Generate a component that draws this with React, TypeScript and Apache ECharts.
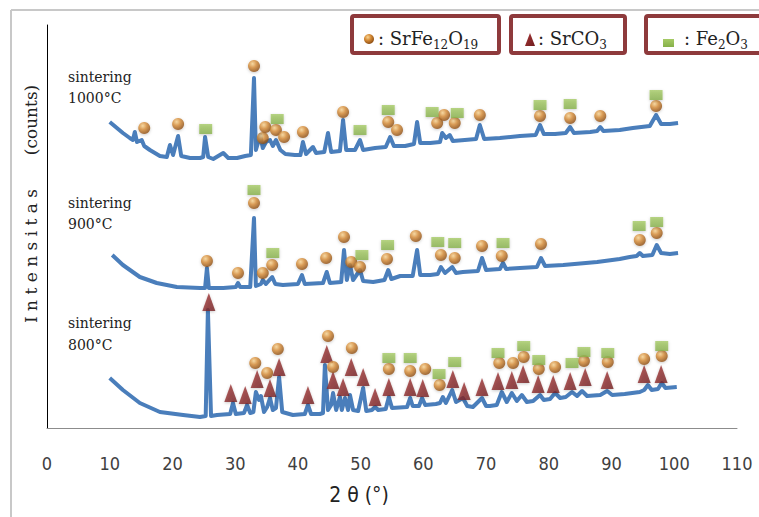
import React, { useEffect, useRef } from "react";
import * as echarts from "echarts";

// X-ray diffraction patterns: [2θ (°), intensity (a.u., offset per curve)]
const trace1000: number[][] = [
  [10.0, 306], [12.1, 295], [13.2, 290], [13.7, 288], [14.0, 296], [14.35, 286], [15.1, 288], [15.5, 282],
  [16.4, 278], [18.0, 272], [19.1, 271], [19.6, 283], [20.1, 273], [20.9, 292], [21.4, 272], [22.8, 270],
  [24.4, 270], [24.9, 271], [25.2, 291], [25.7, 271], [26.5, 269], [28.1, 275], [28.9, 270], [30.3, 270],
  [31.6, 272], [32.5, 273], [33.0, 350], [33.3, 278], [34.0, 293], [34.4, 280], [34.9, 286], [35.55, 288],
  [36.0, 282], [36.5, 288], [37.2, 278], [38.0, 274], [39.5, 273], [40.4, 273], [40.8, 286], [41.3, 274],
  [42.4, 281], [42.9, 275], [44.2, 276], [44.8, 295], [45.3, 276], [46.7, 277], [47.2, 308], [47.7, 278],
  [49.1, 278], [49.9, 288], [50.4, 278], [52.3, 280], [54.0, 281], [54.7, 291], [55.3, 282], [57.1, 282],
  [58.5, 284], [59.0, 306], [59.5, 285], [61.1, 285], [62.65, 286], [63.0, 295], [63.6, 290], [64.2, 293],
  [64.7, 287], [66.6, 288], [68.4, 289], [69.0, 303], [69.7, 289], [72.2, 290], [75.4, 292], [77.9, 293],
  [78.6, 303], [79.2, 294], [81.0, 294], [82.7, 295], [83.4, 301], [84.0, 295], [86.6, 296], [87.7, 297],
  [88.2, 301], [88.7, 297], [91.3, 298], [93.4, 300], [96.1, 302], [97.1, 313], [97.9, 304], [99.3, 304],
  [100.6, 305],
];

const trace900: number[][] = [
  [10.4, 173], [12.1, 163], [14.8, 151], [17.5, 145], [20.7, 141], [24.4, 140], [25.2, 140], [25.5, 160],
  [25.8, 140], [28.1, 140], [30.1, 141], [30.45, 145], [30.8, 141], [32.4, 141], [33.0, 210], [33.3, 142],
  [34.1, 144], [34.4, 148], [34.9, 144], [35.9, 151], [36.4, 144], [37.6, 143], [40.0, 144], [40.65, 153],
  [41.1, 144], [44.0, 145], [44.6, 156], [45.1, 145], [46.9, 146], [47.35, 178], [47.8, 148], [48.3, 163],
  [48.8, 148], [49.9, 158], [50.4, 147], [52.0, 146], [53.8, 148], [54.4, 158], [54.9, 149], [56.3, 152],
  [58.3, 152], [59.0, 178], [59.5, 153], [61.1, 153], [62.3, 154], [62.8, 161], [63.45, 155], [64.6, 161],
  [65.2, 155], [66.3, 156], [68.7, 157], [69.35, 170], [70.0, 158], [72.2, 159], [72.7, 165], [73.2, 159],
  [75.4, 160], [78.1, 161], [78.75, 170], [79.4, 162], [82.3, 163], [87.7, 166], [91.3, 169], [92.9, 171],
  [94.0, 172], [94.5, 175], [95.0, 172], [96.5, 173], [97.2, 183], [97.9, 175], [99.3, 174], [100.6, 175],
];

const trace800: number[][] = [
  [10.0, 50], [12.1, 38], [14.8, 25], [18.0, 16], [21.7, 13], [24.4, 11], [25.3, 12], [25.65, 118],
  [25.9, 65], [26.15, 12], [27.1, 13], [29.2, 14], [29.65, 25], [30.1, 14], [31.4, 15], [31.9, 23],
  [32.4, 15], [32.9, 16], [33.3, 36], [33.8, 28], [34.1, 32], [34.6, 16], [35.1, 21], [35.55, 30],
  [36.0, 18], [36.5, 20], [37.0, 51], [37.5, 16], [39.2, 13], [41.1, 14], [41.6, 23], [42.1, 14],
  [43.5, 14], [44.0, 15], [44.3, 63], [44.8, 18], [45.3, 23], [45.6, 35], [46.1, 18], [46.7, 31],
  [47.0, 18], [47.5, 30], [48.0, 18], [48.3, 33], [48.8, 18], [49.6, 17], [50.4, 40], [50.9, 17],
  [51.8, 18], [52.3, 21], [52.8, 18], [54.0, 19], [54.5, 31], [55.0, 20], [57.4, 21], [57.9, 30],
  [58.3, 22], [59.3, 22], [59.8, 30], [60.3, 23], [62.0, 24], [62.65, 25], [63.1, 31], [63.6, 25],
  [64.6, 38], [65.2, 26], [66.3, 30], [67.0, 22], [67.9, 21], [69.35, 30], [70.0, 22], [70.6, 22],
  [71.7, 23], [72.5, 36], [73.3, 26], [74.1, 35], [74.9, 27], [75.7, 33], [76.5, 26], [77.5, 27],
  [78.6, 33], [79.2, 28], [80.2, 29], [81.0, 35], [81.8, 30], [82.7, 31], [83.7, 36], [84.5, 32],
  [85.3, 37], [86.1, 32], [88.2, 33], [89.3, 37], [90.1, 33], [92.1, 34], [94.5, 36], [95.2, 38],
  [95.8, 43], [96.4, 38], [97.4, 39], [98.0, 45], [98.6, 40], [100.4, 41],
];

// Phase markers [2θ, position]
const ferrite1000 = [[15.5, 300], [20.9, 304], [33.0, 362], [34.4, 290], [34.8, 301], [36.5, 298], [37.8, 291], [40.8, 296], [47.2, 316], [54.4, 306], [55.8, 298], [62.2, 305], [63.3, 313], [65.0, 305], [69.0, 313], [78.6, 312], [83.4, 310], [88.2, 312], [97.1, 322]];
const hematite1000 = [[25.3, 299], [36.7, 309], [49.9, 298], [54.4, 318], [61.4, 316], [65.4, 315], [78.6, 323], [83.4, 324], [97.1, 333]];
const ferrite900 = [[25.5, 167], [30.45, 155], [33.0, 225], [34.4, 155], [35.9, 163], [40.65, 164], [44.5, 170], [47.35, 191], [48.5, 166], [49.9, 161], [54.2, 169], [58.8, 192], [62.8, 173], [65.0, 170], [69.35, 182], [72.5, 172], [78.75, 184], [94.5, 188], [97.2, 195]];
const hematite900 = [[33.0, 238], [36.0, 175], [50.2, 173], [54.3, 183], [62.3, 186], [65.0, 185], [72.7, 185], [94.4, 202], [97.2, 206]];
const ferrite800 = [[33.2, 65], [35.1, 55], [36.8, 79], [44.8, 92], [45.6, 61], [48.6, 80], [54.5, 59], [57.9, 57], [60.3, 59], [62.6, 43], [72.1, 65], [74.3, 65], [76.0, 71], [78.4, 59], [81.0, 61], [85.6, 67], [89.4, 66], [95.2, 69], [98.0, 72]];
const hematite800 = [[54.5, 70], [57.9, 70], [62.5, 54], [65.0, 66], [71.9, 75], [76.0, 82], [78.4, 68], [83.7, 65], [85.6, 76], [89.4, 75], [98.0, 82]];
const carbonate800 = [[25.8, 126], [29.3, 35], [31.6, 33], [33.5, 49], [35.55, 40], [37.0, 61], [41.6, 33], [44.6, 74], [45.6, 48], [47.2, 41], [48.5, 61], [50.4, 51], [52.3, 31], [54.5, 41], [57.9, 41], [59.9, 40], [64.7, 49], [66.5, 37], [69.35, 41], [71.9, 47], [74.1, 48], [75.9, 54], [78.3, 44], [80.7, 44], [83.4, 47], [85.8, 51], [89.3, 48], [95.2, 54], [97.9, 54]];

const sampleLabels = ["sintering\n1000°C", "sintering\n900°C", "sintering\n800°C"];
const xTicks = { min: 0, max: 110, interval: 10 };

// legend formula pieces: [text, isSubscript]
const legendFerrite: [string, boolean][] = [[": SrFe", false], ["12", true], ["O", false], ["19", true]];
const legendCarbonate: [string, boolean][] = [[": SrCO", false], ["3", true]];
const legendHematite: [string, boolean][] = [[": Fe", false], ["2", true], ["O", false], ["3", true]];

const SERIF = "'DejaVu Serif', 'Liberation Serif', serif";
const NARROW = "'Liberation Sans Narrow', 'DejaVu Sans Condensed', 'Open Sans', sans-serif";
const LINE_BLUE = "#4a7ebb";
const BOX_RED = "#8e3a3c";
const MAIN_SIZE = 18;
const SUB_SIZE = 12;

const ballFill = () =>
  new echarts.graphic.RadialGradient(0.38, 0.32, 0.7, [
    { offset: 0, color: "#f9d594" },
    { offset: 0.45, color: "#d68c37" },
    { offset: 1, color: "#8c4c12" },
  ]);
const triFill = () =>
  new echarts.graphic.LinearGradient(0, 0, 1, 1, [
    { offset: 0, color: "#a83636" },
    { offset: 1, color: "#6f1d1f" },
  ]);
const sqFill = () =>
  new echarts.graphic.LinearGradient(0, 0, 0, 1, [
    { offset: 0, color: "#a6cb66" },
    { offset: 1, color: "#86b04a" },
  ]);

function measure(text: string, size: number): number {
  const c = document.createElement("canvas").getContext("2d");
  if (!c) return text.length * size * 0.6;
  c.font = `${size}px ${SERIF}`;
  return c.measureText(text).width;
}

function formulaTexts(pieces: [string, boolean][], x0: number) {
  const out: any[] = [];
  let x = x0;
  for (const [t, sub] of pieces) {
    const size = sub ? SUB_SIZE : MAIN_SIZE;
    out.push({
      type: "text", x, y: sub ? 45 : 38, z: 11,
      style: { text: t, fontFamily: SERIF, fontSize: size, fill: "#222", verticalAlign: "middle" },
    });
    x += measure(t, size);
  }
  return out;
}

export default function App() {
  const ref = useRef<HTMLDivElement>(null);

  useEffect(() => {
    if (!ref.current) return;
    const chart = echarts.init(ref.current, null, { renderer: "svg" });

    const lineSeries = (data: number[][]) => ({
      type: "line",
      data,
      showSymbol: false,
      smooth: false,
      lineStyle: { color: LINE_BLUE, width: 4, join: "round" },
      z: 2,
      silent: true,
    });

    const markerShadow = { shadowBlur: 3, shadowColor: "rgba(0,0,0,0.25)", shadowOffsetY: 1 };

    const option: any = {
      animation: false,
      backgroundColor: "#ffffff",
      grid: { left: 47, right: 22, top: 25, bottom: 89 },
      xAxis: {
        type: "value",
        min: xTicks.min,
        max: xTicks.max,
        interval: xTicks.interval,
        axisLine: { show: true, lineStyle: { color: "#8c8c8c", width: 1 } },
        axisTick: { show: false },
        splitLine: { show: false },
        axisLabel: { fontFamily: NARROW, fontSize: 18, color: "#404040", margin: 26 },
      },
      yAxis: {
        type: "value",
        min: 0,
        max: 403,
        axisLine: { show: true, onZero: false, lineStyle: { color: "#000", width: 1 } },
        axisTick: { show: false },
        splitLine: { show: false },
        axisLabel: { show: false },
      },
      series: [
        lineSeries(trace1000),
        lineSeries(trace900),
        lineSeries(trace800),
        {
          type: "scatter",
          data: carbonate800,
          symbol: "triangle",
          symbolSize: [13, 18],
          itemStyle: { color: triFill(), ...markerShadow },
          z: 4,
        },
        {
          type: "scatter",
          data: [...ferrite1000, ...ferrite900, ...ferrite800],
          symbol: "circle",
          symbolSize: 12,
          itemStyle: { color: ballFill(), ...markerShadow },
          z: 5,
        },
        {
          type: "scatter",
          data: [...hematite1000, ...hematite900, ...hematite800],
          symbol: "rect",
          symbolSize: [13, 10],
          itemStyle: { color: sqFill(), ...markerShadow },
          z: 5,
        },
      ],
      graphic: [
        // outer frame
        { type: "line", shape: { x1: 11, y1: 10, x2: 11, y2: 517 }, style: { stroke: "#c8c8c8", lineWidth: 2 } },
        { type: "line", shape: { x1: 11, y1: 10, x2: 759, y2: 10 }, style: { stroke: "#c8c8c8", lineWidth: 2 } },
        // y axis title
        {
          type: "text", x: 31, y: 256, rotation: Math.PI / 2,
          style: { text: "I n t e n s i t a s", fontFamily: SERIF, fontSize: 17, fill: "#222", align: "center", verticalAlign: "middle" },
        },
        {
          type: "text", x: 31, y: 120, rotation: Math.PI / 2,
          style: { text: "(counts)", fontFamily: SERIF, fontSize: 17, fill: "#222", align: "center", verticalAlign: "middle" },
        },
        // x axis title
        {
          type: "text", x: 359, y: 495,
          style: { text: "2 θ (°)", fontFamily: NARROW, fontSize: 21, fill: "#222", align: "center", verticalAlign: "middle" },
        },
        // sample labels
        { type: "text", x: 68, y: 66, style: { text: sampleLabels[0], fontFamily: SERIF, fontSize: 14, lineHeight: 21, fill: "#222" } },
        { type: "text", x: 68, y: 192, style: { text: sampleLabels[1], fontFamily: SERIF, fontSize: 14, lineHeight: 21, fill: "#222" } },
        { type: "text", x: 68, y: 312, style: { text: sampleLabels[2], fontFamily: SERIF, fontSize: 14, lineHeight: 22, fill: "#222" } },
        // legend boxes
        { type: "rect", shape: { x: 352, y: 16, width: 147, height: 37, r: 2 }, style: { fill: "#fff", stroke: BOX_RED, lineWidth: 4 }, z: 10 },
        { type: "rect", shape: { x: 511, y: 16, width: 114, height: 37, r: 2 }, style: { fill: "#fff", stroke: BOX_RED, lineWidth: 4 }, z: 10 },
        { type: "rect", shape: { x: 646, y: 16, width: 130, height: 37, r: 2 }, style: { fill: "#fff", stroke: BOX_RED, lineWidth: 4 }, z: 10 },
        { type: "circle", shape: { cx: 369, cy: 39, r: 5 }, style: { fill: ballFill() }, z: 11 },
        { type: "polygon", shape: { points: [[530, 33], [525, 46], [535, 46]] }, style: { fill: triFill() }, z: 11 },
        { type: "rect", shape: { x: 663, y: 39, width: 11, height: 8 }, style: { fill: sqFill() }, z: 11 },
        ...formulaTexts(legendFerrite, 378),
        ...formulaTexts(legendCarbonate, 538),
        ...formulaTexts(legendHematite, 684),
      ],
    };

    chart.setOption(option);
    return () => chart.dispose();
  }, []);

  return (
    <div
      ref={ref}
      style={{ position: "fixed", left: 0, top: 0, width: 759, height: 517, background: "#fff" }}
    />
  );
}
